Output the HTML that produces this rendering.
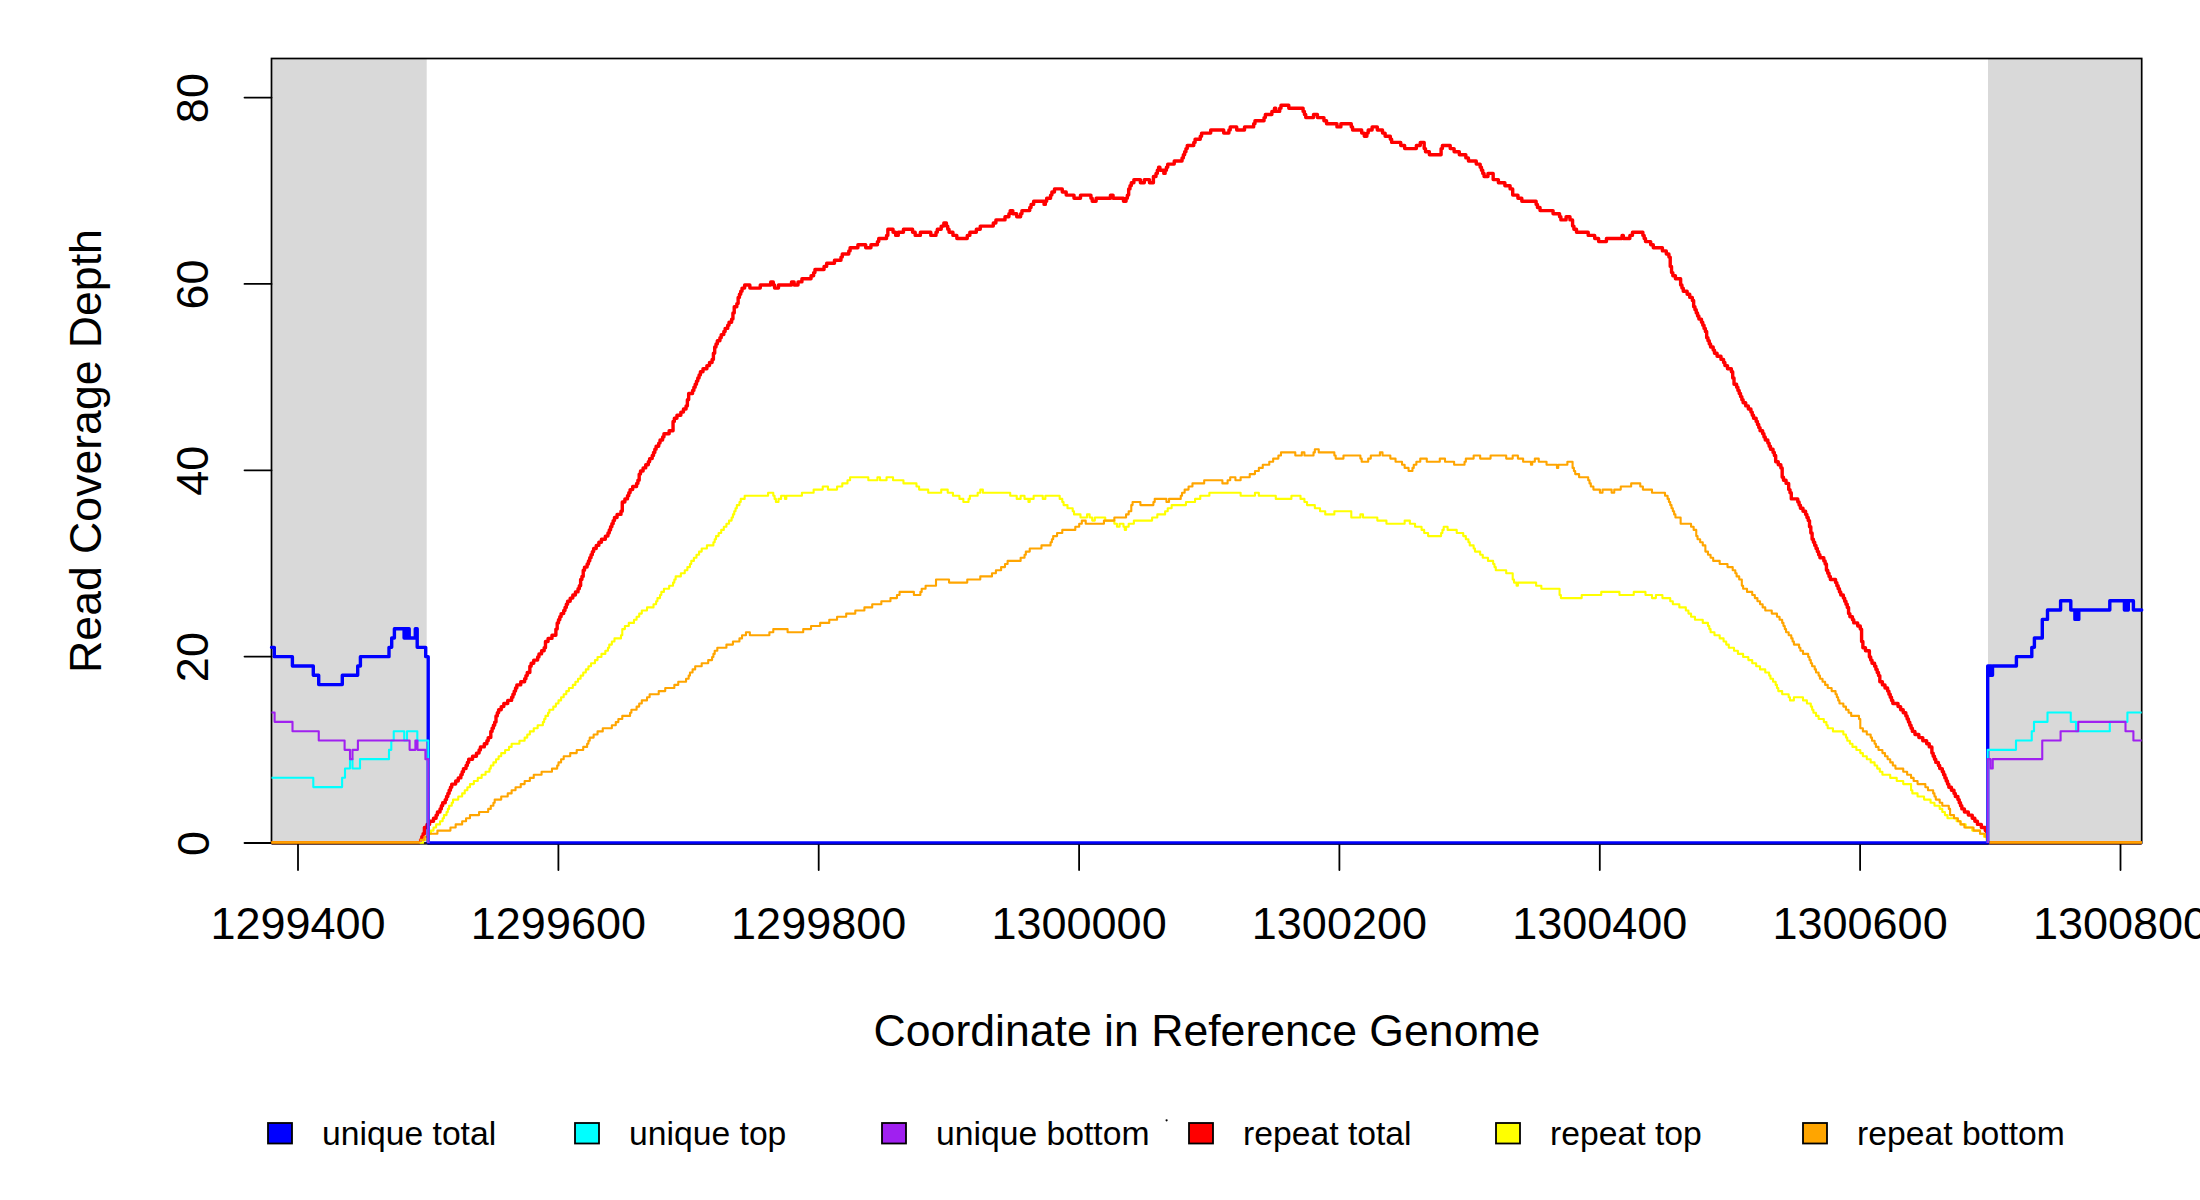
<!DOCTYPE html><html><head><meta charset="utf-8"><style>html,body{margin:0;padding:0;background:#fff;overflow:hidden}svg{display:block;font-family:"Liberation Sans",sans-serif}</style></head><body><svg width="2200" height="1200" viewBox="0 0 2200 1200">
<rect x="0" y="0" width="2200" height="1200" fill="#fff"/>
<rect x="271.5" y="58.5" width="155.2" height="784.5" fill="#d9d9d9"/>
<rect x="1988" y="58.5" width="153.7" height="784.5" fill="#d9d9d9"/>
<rect x="271.5" y="58.5" width="1870.2" height="784.5" fill="none" stroke="#000" stroke-width="1.7"/>
<line x1="244.5" y1="843.0" x2="271.5" y2="843.0" stroke="#000" stroke-width="1.8" stroke-linecap="round"/>
<line x1="244.5" y1="656.6" x2="271.5" y2="656.6" stroke="#000" stroke-width="1.8" stroke-linecap="round"/>
<line x1="244.5" y1="470.3" x2="271.5" y2="470.3" stroke="#000" stroke-width="1.8" stroke-linecap="round"/>
<line x1="244.5" y1="283.9" x2="271.5" y2="283.9" stroke="#000" stroke-width="1.8" stroke-linecap="round"/>
<line x1="244.5" y1="97.6" x2="271.5" y2="97.6" stroke="#000" stroke-width="1.8" stroke-linecap="round"/>
<line x1="298.0" y1="843" x2="298.0" y2="870" stroke="#000" stroke-width="1.8" stroke-linecap="round"/>
<line x1="558.4" y1="843" x2="558.4" y2="870" stroke="#000" stroke-width="1.8" stroke-linecap="round"/>
<line x1="818.7" y1="843" x2="818.7" y2="870" stroke="#000" stroke-width="1.8" stroke-linecap="round"/>
<line x1="1079.1" y1="843" x2="1079.1" y2="870" stroke="#000" stroke-width="1.8" stroke-linecap="round"/>
<line x1="1339.4" y1="843" x2="1339.4" y2="870" stroke="#000" stroke-width="1.8" stroke-linecap="round"/>
<line x1="1599.8" y1="843" x2="1599.8" y2="870" stroke="#000" stroke-width="1.8" stroke-linecap="round"/>
<line x1="1860.1" y1="843" x2="1860.1" y2="870" stroke="#000" stroke-width="1.8" stroke-linecap="round"/>
<line x1="2120.5" y1="843" x2="2120.5" y2="870" stroke="#000" stroke-width="1.8" stroke-linecap="round"/>
<path d="M271.5,842.6H420M1988,842.6H2141.7" fill="none" stroke="#ff0000" stroke-width="3.2"/>
<path d="M271.5,842.4H420M1988,842.4H2141.7" fill="none" stroke="#ffff00" stroke-width="2"/>
<path d="M271.5,842.4H420M1988,842.4H2141.7" fill="none" stroke="#ffa500" stroke-width="2"/>
<path fill="none" stroke="#ff0000" stroke-width="3.4" stroke-linejoin="round" stroke-linecap="round" d="M420.50,839.90H421.80V836.80H423.10V833.70H424.41V827.50H427.01V824.40H429.61V821.30H433.52V818.20H436.12V815.10H437.42V812.00H440.03V808.90H441.33V805.80H442.63V802.70H445.23V799.60H446.54V796.50H447.84V793.40H449.14V790.30H450.44V787.20H451.74V784.10H455.65V781.00H458.25V777.90H460.86V774.80H462.16V771.70H463.46V768.60H466.06V765.50H467.36V762.40H468.67V759.30H472.57V756.20H476.48V753.10H479.08V750.00H480.38V746.90H484.29V743.80H486.89V740.70H488.19V737.60H490.80V731.40H492.10V728.30H493.40V725.20H494.70V722.10H496.00V715.90H497.31V712.80H498.61V709.70H501.21V706.60H503.81V703.50H507.72V700.40H511.63V697.30H512.93V694.20H514.23V691.10H515.53V688.00H516.83V684.90H520.74V681.80H524.64V678.70H525.94V675.60H527.25V672.50H529.85V666.30H531.15V663.20H533.76V660.10H537.66V657.00H538.96V653.90H541.57V650.80H544.17V647.70H545.47V641.50H548.08V638.40H551.98V635.30H555.89V629.10H557.19V622.90H558.49V619.80H559.79V616.70H561.09V613.60H563.70V610.50H565.00V607.40H566.30V604.30H567.60V601.20H570.21V598.10H572.81V595.00H575.41V591.90H578.02V588.80H579.32V585.70H580.62V579.50H581.92V576.40H583.22V570.20H584.53V567.10H587.13V564.00H588.43V560.90H589.73V557.80H591.03V554.70H592.34V551.60H593.64V548.50H596.24V545.40H598.85V542.30H601.45V539.20H605.35V536.10H607.96V533.00H609.26V529.90H610.56V526.80H611.86V523.70H613.16V520.60H614.47V517.50H617.07V514.40H620.98V511.30H622.28V502.00H624.88V498.90H627.48V495.80H628.79V492.70H630.09V489.60H632.69V486.50H636.60V483.40H637.90V480.30H639.20V474.10H640.50V471.00H643.11V467.90H645.71V464.80H648.31V461.70H649.62V458.60H652.22V455.50H653.52V452.40H654.82V449.30H656.12V446.20H658.73V443.10H660.03V440.00H662.63V436.90H663.93V433.80H669.14V430.70H673.05V421.40H674.35V418.30H676.95V415.20H680.86V412.10H683.46V409.00H686.07V405.90H687.37V399.70H688.67V393.50H692.57V390.40H693.88V387.30H695.18V384.20H696.48V381.10H697.78V378.00H699.08V374.90H700.38V371.80H702.99V368.70H706.89V365.60H709.50V362.50H712.10V359.40H713.40V353.20H714.70V347.00H716.01V343.90H717.31V340.80H719.91V337.70H721.21V334.60H723.82V331.50H725.12V328.40H727.72V325.30H729.02V322.20H731.63V319.10H732.93V312.90H734.23V306.70H736.83V303.60H738.14V297.40H739.44V294.30H740.74V291.20H742.04V288.10H744.65V285.00H749.85V288.10H760.27V285.00H770.68V281.90H773.29V285.00H774.59V288.10H778.49V285.00H791.51V281.90H794.11V285.00H798.02V281.90H801.92V278.80H811.04V275.70H813.64V272.60H814.94V269.50H824.05V266.40H826.66V263.30H834.47V260.20H840.98V257.10H842.28V254.00H848.79V250.90H850.09V247.80H857.90V244.70H865.71V247.80H870.92V244.70H877.43V241.60H878.73V238.50H886.54V235.40H887.84V229.20H893.05V232.30H895.65V235.40H898.26V232.30H903.46V229.20H912.58V232.30H915.18V235.40H920.39V232.30H930.80V235.40H936.01V232.30H937.31V229.20H941.22V226.10H943.82V223.00H946.42V226.10H947.72V229.20H949.03V232.30H952.93V235.40H956.84V238.50H967.25V235.40H969.86V232.30H976.36V229.20H980.27V226.10H993.29V223.00H995.89V219.90H1005.00V216.80H1008.91V213.70H1010.21V210.60H1012.81V213.70H1016.72V216.80H1020.63V213.70H1021.93V210.60H1029.74V207.50H1031.04V204.40H1033.64V201.30H1044.06V204.40H1045.36V201.30H1046.66V198.20H1050.57V195.10H1051.87V192.00H1054.47V188.90H1062.28V192.00H1066.19V195.10H1074.00V198.20H1080.51V195.10H1090.92V198.20H1092.22V201.30H1096.13V198.20H1110.45V195.10H1113.05V198.20H1123.47V201.30H1126.07V198.20H1127.37V195.10H1128.67V188.90H1129.98V185.80H1131.28V182.70H1133.88V179.60H1140.39V182.70H1144.30V179.60H1149.50V182.70H1153.41V176.50H1156.01V173.40H1157.31V170.30H1158.61V167.20H1159.92V170.30H1163.82V173.40H1165.12V170.30H1166.43V167.20H1167.73V164.10H1174.24V161.00H1182.05V157.90H1183.35V154.80H1184.65V151.70H1185.95V148.60H1187.25V145.50H1193.76V142.40H1195.07V139.30H1200.27V136.20H1201.57V133.10H1210.69V130.00H1223.70V133.10H1228.91V130.00H1230.21V126.90H1236.72V130.00H1244.53V126.90H1253.65V123.80H1254.95V120.70H1264.06V117.60H1265.36V114.50H1271.87V111.40H1274.47V108.30H1275.78V111.40H1279.68V108.30H1280.98V105.20H1288.79V108.30H1303.11V111.40H1304.42V114.50H1305.72V117.60H1313.53V114.50H1317.43V117.60H1323.94V120.70H1326.55V123.80H1336.96V126.90H1340.87V123.80H1351.28V126.90H1352.58V130.00H1361.69V133.10H1364.30V136.20H1366.90V133.10H1368.20V130.00H1372.11V126.90H1377.32V130.00H1382.52V133.10H1385.13V136.20H1390.33V139.30H1391.64V142.40H1400.75V145.50H1404.65V148.60H1416.37V145.50H1420.27V142.40H1424.18V148.60H1425.48V151.70H1429.39V154.80H1441.10V148.60H1442.41V145.50H1450.22V148.60H1454.12V151.70H1459.33V154.80H1465.84V157.90H1468.44V161.00H1476.25V164.10H1480.16V167.20H1481.46V170.30H1482.76V173.40H1484.06V176.50H1487.97V173.40H1493.17V179.60H1498.38V182.70H1504.89V185.80H1510.10V188.90H1512.70V195.10H1517.91V198.20H1521.81V201.30H1536.13V204.40H1537.44V207.50H1540.04V210.60H1553.06V213.70H1559.57V216.80H1560.87V219.90H1566.08V216.80H1569.98V219.90H1572.58V226.10H1573.89V229.20H1576.49V232.30H1588.21V235.40H1594.71V238.50H1598.62V241.60H1606.43V238.50H1622.05V235.40H1623.35V238.50H1629.86V235.40H1632.47V232.30H1642.88V235.40H1644.18V238.50H1645.48V241.60H1650.69V244.70H1653.30V247.80H1662.41V250.90H1666.31V254.00H1668.92V257.10H1670.22V266.40H1671.52V272.60H1672.82V275.70H1675.43V278.80H1680.63V285.00H1681.93V288.10H1683.24V291.20H1687.14V294.30H1689.75V297.40H1692.35V300.50H1693.65V306.70H1694.95V309.80H1696.25V312.90H1697.56V316.00H1698.86V319.10H1701.46V322.20H1702.76V325.30H1704.06V328.40H1705.37V331.50H1706.67V337.70H1707.97V340.80H1709.27V343.90H1710.57V347.00H1713.18V350.10H1714.48V353.20H1717.08V356.30H1720.99V359.40H1723.59V362.50H1724.89V365.60H1727.50V368.70H1731.40V371.80H1732.70V378.00H1734.01V384.20H1736.61V387.30H1737.91V390.40H1739.21V393.50H1740.52V396.60H1741.82V399.70H1743.12V402.80H1745.72V405.90H1748.33V409.00H1750.93V412.10H1752.23V415.20H1753.53V418.30H1756.14V421.40H1757.44V424.50H1758.74V427.60H1760.04V430.70H1762.65V433.80H1763.95V436.90H1765.25V440.00H1767.85V443.10H1769.15V446.20H1770.46V449.30H1773.06V452.40H1774.36V455.50H1775.66V461.70H1778.27V464.80H1780.87V467.90H1782.17V477.20H1783.47V480.30H1786.08V483.40H1788.68V489.60H1789.98V492.70H1791.28V498.90H1797.79V502.00H1799.10V505.10H1800.40V508.20H1803.00V511.30H1805.60V514.40H1806.91V517.50H1808.21V520.60H1809.51V526.80H1810.81V533.00H1812.11V539.20H1813.42V542.30H1814.72V545.40H1816.02V548.50H1817.32V551.60H1818.62V554.70H1819.92V557.80H1823.83V560.90H1825.13V564.00H1826.43V570.20H1827.73V573.30H1829.04V576.40H1830.34V579.50H1835.55V582.60H1836.85V585.70H1838.15V588.80H1839.45V591.90H1840.75V595.00H1843.36V598.10H1844.66V601.20H1845.96V604.30H1847.26V607.40H1848.56V613.60H1849.87V616.70H1852.47V619.80H1853.77V622.90H1857.68V626.00H1860.28V629.10H1861.58V641.50H1862.88V647.70H1865.49V650.80H1869.39V657.00H1870.69V660.10H1872.00V663.20H1874.60V666.30H1875.90V669.40H1877.20V672.50H1878.50V675.60H1879.81V681.80H1882.41V684.90H1885.01V688.00H1887.62V691.10H1888.92V694.20H1890.22V697.30H1891.52V700.40H1892.82V703.50H1898.03V706.60H1900.64V709.70H1903.24V712.80H1905.84V715.90H1907.14V719.00H1908.45V722.10H1909.75V725.20H1911.05V728.30H1912.35V731.40H1914.95V734.50H1918.86V737.60H1922.77V740.70H1926.67V743.80H1929.27V746.90H1931.88V753.10H1933.18V756.20H1934.48V759.30H1935.78V762.40H1938.39V765.50H1939.69V768.60H1942.29V771.70H1943.59V774.80H1944.90V777.90H1946.20V781.00H1947.50V784.10H1948.80V787.20H1951.41V790.30H1954.01V793.40H1955.31V796.50H1957.91V799.60H1959.22V802.70H1960.52V805.80H1961.82V808.90H1964.42V812.00H1968.33V815.10H1972.23V818.20H1974.84V821.30H1977.44V824.40H1981.35V827.50H1985.25V830.60H1986.55V836.80H1986.55"/>
<path fill="none" stroke="#ffff00" stroke-width="2.1" stroke-linejoin="round" stroke-linecap="round" d="M420.50,843.00H423.10V839.90H425.71V836.80H428.31V833.70H430.91V830.60H433.52V827.50H436.12V824.40H440.03V821.30H442.63V818.20H443.93V815.10H446.54V812.00H447.84V808.90H449.14V805.80H451.74V802.70H453.04V799.60H458.25V796.50H462.16V793.40H464.76V790.30H467.36V787.20H469.97V784.10H473.87V781.00H477.78V777.90H481.68V774.80H485.59V771.70H489.49V768.60H490.80V765.50H493.40V762.40H496.00V759.30H498.61V756.20H501.21V753.10H505.12V750.00H509.02V746.90H511.63V743.80H519.44V740.70H524.64V737.60H527.25V734.50H529.85V731.40H533.76V728.30H537.66V725.20H542.87V722.10H544.17V719.00H545.47V715.90H548.08V712.80H549.38V709.70H553.28V706.60H555.89V703.50H558.49V700.40H561.09V697.30H563.70V694.20H566.30V691.10H568.90V688.00H572.81V684.90H575.41V681.80H578.02V678.70H580.62V675.60H583.22V672.50H585.83V669.40H588.43V666.30H591.03V663.20H594.94V660.10H597.54V657.00H601.45V653.90H605.35V650.80H607.96V647.70H609.26V644.60H611.86V641.50H614.47V638.40H620.98V635.30H622.28V629.10H624.88V626.00H628.79V622.90H633.99V619.80H636.60V616.70H639.20V613.60H641.80V610.50H647.01V607.40H653.52V604.30H656.12V601.20H657.43V598.10H660.03V595.00H661.33V591.90H663.93V588.80H669.14V585.70H673.05V582.60H674.35V579.50H675.65V576.40H680.86V573.30H684.76V570.20H687.37V567.10H689.97V564.00H691.27V560.90H693.88V557.80H696.48V554.70H699.08V551.60H701.69V548.50H706.89V545.40H713.40V542.30H714.70V539.20H716.01V536.10H718.61V533.00H721.21V529.90H723.82V526.80H726.42V523.70H729.02V520.60H731.63V517.50H732.93V514.40H734.23V511.30H735.53V508.20H736.83V505.10H739.44V502.00H740.74V498.90H744.65V495.80H768.08V492.70H773.29V495.80H774.59V498.90H775.89V502.00H778.49V498.90H781.10V495.80H785.00V498.90H786.30V495.80H801.92V492.70H813.64V489.60H822.75V486.50H827.96V489.60H837.07V486.50H842.28V483.40H847.49V480.30H850.09V477.20H868.32V480.30H877.43V477.20H880.03V480.30H886.54V477.20H893.05V480.30H903.46V483.40H916.48V486.50H919.09V489.60H928.20V492.70H941.22V489.60H947.72V492.70H952.93V495.80H959.44V498.90H963.35V502.00H968.55V498.90H969.86V495.80H977.67V492.70H980.27V489.60H982.87V492.70H1010.21V495.80H1016.72V498.90H1020.63V495.80H1024.53V498.90H1028.44V502.00H1029.74V498.90H1033.64V495.80H1042.76V498.90H1045.36V495.80H1059.68V498.90H1062.28V502.00H1063.58V505.10H1067.49V508.20H1072.70V511.30H1074.00V514.40H1080.51V517.50H1087.02V514.40H1089.62V517.50H1092.22V520.60H1094.83V517.50H1105.24V520.60H1114.35V523.70H1116.96V526.80H1119.56V523.70H1123.47V526.80H1124.77V529.90H1126.07V526.80H1128.67V523.70H1133.88V520.60H1152.11V517.50H1157.31V514.40H1165.12V511.30H1167.73V508.20H1171.63V505.10H1185.95V502.00H1195.07V498.90H1200.27V495.80H1209.38V492.70H1240.63V495.80H1254.95V492.70H1258.85V495.80H1275.78V498.90H1291.40V495.80H1300.51V498.90H1304.42V502.00H1307.02V505.10H1314.83V508.20H1320.04V511.30H1325.24V514.40H1334.36V511.30H1351.28V517.50H1360.39V514.40H1363.00V517.50H1377.32V520.60H1386.43V523.70H1404.65V520.60H1409.86V523.70H1415.07V526.80H1421.58V529.90H1424.18V533.00H1428.09V536.10H1441.10V533.00H1442.41V529.90H1443.71V526.80H1447.61V529.90H1456.72V533.00H1463.23V536.10H1465.84V539.20H1468.44V542.30H1469.74V545.40H1473.65V548.50H1474.95V551.60H1480.16V554.70H1482.76V557.80H1487.97V560.90H1493.17V564.00H1494.48V567.10H1495.78V570.20H1506.19V573.30H1512.70V579.50H1514.00V582.60H1516.61V585.70H1517.91V582.60H1536.13V585.70H1541.34V588.80H1559.57V595.00H1560.87V598.10H1581.70V595.00H1601.22V591.90H1619.45V595.00H1633.77V591.90H1645.48V595.00H1651.99V598.10H1655.90V595.00H1662.41V598.10H1670.22V601.20H1672.82V604.30H1679.33V607.40H1685.84V610.50H1688.44V613.60H1691.05V616.70H1694.95V619.80H1702.76V622.90H1707.97V626.00H1709.27V629.10H1710.57V632.20H1714.48V635.30H1719.69V638.40H1723.59V641.50H1726.20V644.60H1728.80V647.70H1734.01V650.80H1737.91V653.90H1743.12V657.00H1748.33V660.10H1752.23V663.20H1756.14V666.30H1760.04V669.40H1765.25V672.50H1769.15V675.60H1770.46V678.70H1773.06V681.80H1775.66V684.90H1776.97V688.00H1778.27V691.10H1782.17V694.20H1788.68V697.30H1789.98V700.40H1793.89V697.30H1803.00V700.40H1806.91V703.50H1810.81V706.60H1812.11V709.70H1813.42V712.80H1816.02V715.90H1818.62V719.00H1823.83V722.10H1826.43V725.20H1827.73V728.30H1832.94V731.40H1843.36V734.50H1845.96V737.60H1847.26V740.70H1849.87V743.80H1852.47V746.90H1856.37V750.00H1860.28V753.10H1862.88V756.20H1866.79V759.30H1870.69V762.40H1874.60V765.50H1877.20V768.60H1879.81V771.70H1882.41V774.80H1890.22V777.90H1896.73V781.00H1903.24V784.10H1911.05V790.30H1912.35V793.40H1917.56V796.50H1924.07V799.60H1930.58V802.70H1934.48V805.80H1939.69V808.90H1942.29V812.00H1944.90V815.10H1947.50V818.20H1956.61V821.30H1960.52V824.40H1965.72V827.50H1972.23V830.60H1980.04V833.70H1983.95V836.80H1986.55V839.90H1986.55"/>
<path fill="none" stroke="#ffa500" stroke-width="2.1" stroke-linejoin="round" stroke-linecap="round" d="M420.50,839.90H424.41V836.80H428.31V833.70H437.42V830.60H450.44V827.50H455.65V824.40H462.16V821.30H466.06V818.20H469.97V815.10H479.08V812.00H488.19V808.90H490.80V805.80H493.40V802.70H494.70V799.60H501.21V796.50H507.72V793.40H511.63V790.30H515.53V787.20H520.74V784.10H524.64V781.00H529.85V777.90H533.76V774.80H541.57V771.70H551.98V768.60H557.19V765.50H558.49V762.40H561.09V759.30H563.70V756.20H570.21V753.10H576.71V750.00H583.22V746.90H587.13V743.80H588.43V740.70H589.73V737.60H593.64V734.50H597.54V731.40H602.75V728.30H611.86V725.20H615.77V722.10H618.37V719.00H622.28V715.90H630.09V712.80H631.39V709.70H636.60V706.60H639.20V703.50H641.80V700.40H647.01V697.30H649.62V694.20H658.73V691.10H665.24V688.00H674.35V684.90H678.25V681.80H686.07V678.70H688.67V675.60H689.97V672.50H692.57V669.40H695.18V666.30H701.69V663.20H708.20V660.10H712.10V657.00H713.40V653.90H714.70V650.80H717.31V647.70H726.42V644.60H732.93V641.50H739.44V638.40H742.04V635.30H745.95V632.20H749.85V635.30H769.38V632.20H773.29V629.10H787.60V632.20H803.23V629.10H811.04V626.00H820.15V622.90H829.26V619.80H837.07V616.70H846.19V613.60H855.30V610.50H864.41V607.40H872.22V604.30H881.33V601.20H890.45V598.10H896.96V595.00H899.56V591.90H913.88V595.00H920.39V591.90H921.69V588.80H925.59V585.70H936.01V579.50H949.03V582.60H967.25V579.50H980.27V576.40H991.99V573.30H995.89V570.20H1001.10V567.10H1005.00V564.00H1007.61V560.90H1020.63V557.80H1024.53V554.70H1025.83V551.60H1029.74V548.50H1041.45V545.40H1050.57V542.30H1051.87V539.20H1053.17V536.10H1057.08V533.00H1062.28V529.90H1075.30V526.80H1079.21V523.70H1081.81V520.60H1085.71V523.70H1103.94V520.60H1114.35V517.50H1126.07V514.40H1128.67V511.30H1131.28V505.10H1132.58V502.00H1140.39V505.10H1153.41V502.00H1154.71V498.90H1166.43V502.00H1169.03V498.90H1180.75V495.80H1182.05V492.70H1184.65V489.60H1188.56V486.50H1192.46V483.40H1204.18V480.30H1222.40V483.40H1227.61V480.30H1230.21V477.20H1235.42V480.30H1240.63V477.20H1249.74V474.10H1254.95V471.00H1258.85V467.90H1262.76V464.80H1269.27V461.70H1273.17V458.60H1278.38V455.50H1280.98V452.40H1295.30V455.50H1301.81V452.40H1304.42V455.50H1313.53V452.40H1314.83V449.30H1318.74V452.40H1334.36V455.50H1335.66V458.60H1343.47V455.50H1360.39V458.60H1361.69V461.70H1368.20V458.60H1370.81V455.50H1379.92V452.40H1382.52V455.50H1390.33V458.60H1395.54V461.70H1402.05V464.80H1404.65V467.90H1408.56V471.00H1412.46V467.90H1413.77V464.80H1416.37V461.70H1420.27V458.60H1426.78V461.70H1439.80V458.60H1445.01V461.70H1454.12V464.80H1464.54V461.70H1465.84V458.60H1473.65V455.50H1480.16V458.60H1490.57V455.50H1506.19V458.60H1512.70V455.50H1517.91V458.60H1523.12V461.70H1530.93V464.80H1532.23V461.70H1534.83V458.60H1538.74V461.70H1546.55V464.80H1556.96V467.90H1558.26V464.80H1567.38V461.70H1572.58V467.90H1573.89V471.00H1575.19V474.10H1579.09V477.20H1588.21V480.30H1589.51V483.40H1590.81V486.50H1593.41V489.60H1599.92V492.70H1602.53V489.60H1611.64V492.70H1614.24V489.60H1620.75V486.50H1631.16V483.40H1640.28V486.50H1642.88V489.60H1651.99V492.70H1665.01V495.80H1667.61V498.90H1668.92V502.00H1670.22V505.10H1671.52V508.20H1672.82V511.30H1674.12V514.40H1675.43V517.50H1680.63V523.70H1691.05V526.80H1693.65V529.90H1696.25V536.10H1697.56V539.20H1700.16V542.30H1702.76V545.40H1705.37V551.60H1707.97V554.70H1710.57V557.80H1713.18V560.90H1719.69V564.00H1727.50V567.10H1732.70V570.20H1735.31V573.30H1736.61V576.40H1739.21V579.50H1741.82V585.70H1743.12V588.80H1747.02V591.90H1752.23V595.00H1754.83V598.10H1757.44V601.20H1760.04V604.30H1762.65V607.40H1765.25V610.50H1771.76V613.60H1776.97V616.70H1779.57V619.80H1782.17V622.90H1783.47V626.00H1784.78V629.10H1786.08V632.20H1788.68V635.30H1791.28V638.40H1792.59V641.50H1793.89V644.60H1799.10V647.70H1800.40V650.80H1803.00V653.90H1808.21V657.00H1809.51V660.10H1810.81V663.20H1812.11V666.30H1814.72V669.40H1816.02V672.50H1818.62V675.60H1819.92V678.70H1822.53V681.80H1825.13V684.90H1827.73V688.00H1831.64V691.10H1835.55V694.20H1836.85V697.30H1838.15V700.40H1839.45V703.50H1843.36V706.60H1845.96V709.70H1848.56V712.80H1851.17V715.90H1858.98V719.00H1860.28V728.30H1862.88V731.40H1866.79V734.50H1870.69V737.60H1872.00V740.70H1874.60V743.80H1875.90V746.90H1878.50V750.00H1882.41V753.10H1885.01V756.20H1887.62V759.30H1890.22V762.40H1892.82V765.50H1895.43V768.60H1903.24V771.70H1907.14V774.80H1911.05V777.90H1913.65V781.00H1917.56V784.10H1925.37V787.20H1927.97V790.30H1933.18V793.40H1934.48V796.50H1935.78V799.60H1939.69V802.70H1942.29V805.80H1948.80V808.90H1950.10V815.10H1954.01V818.20H1957.91V821.30H1960.52V824.40H1964.42V827.50H1973.54V830.60H1980.04V833.70H1985.25V836.80H1986.55"/>
<path fill="none" stroke="#0000ff" stroke-width="3.4" stroke-linejoin="round" stroke-linecap="round" d="M271.50,647.33H274.30V656.65H292.40V665.97H313.30V675.28H318.70V684.60H342.30V675.28H357.70V665.97H360.40V656.65H389.00V647.33H391.70V638.01H394.40V628.70H404.10V638.01H405.30V628.70H406.60V638.01H407.90V628.70H409.20V638.01H410.30V638.01H415.30V628.70H417.20V647.33H425.70V656.65H428.20V843.00H1987.70V665.97H1988.90V675.28H1990.20V665.97H1991.50V675.28H1992.50V665.97H2016.40V656.65H2031.80V647.33H2034.40V638.01H2042.30V619.38H2047.50V610.06H2060.60V600.75H2070.80V610.06H2074.90V619.38H2076.20V610.06H2077.50V619.38H2078.80V610.06H2079.80V610.06H2109.80V600.75H2124.40V610.06H2125.70V600.75H2127.00V610.06H2128.30V600.75H2129.30V600.75H2133.40V610.06H2141.70"/>
<path fill="none" stroke="#00ffff" stroke-width="2.1" stroke-linejoin="round" d="M271.50,777.78H313.30V787.10H342.10V777.78H345.00V768.46H350.00V759.14H352.50V768.46H360.00V759.14H389.00V749.83H391.30V740.51H393.75V731.19H404.20V740.51H407.00V731.19H417.30V740.51H428.30V843.00H428.30"/>
<path fill="none" stroke="#00ffff" stroke-width="2.1" stroke-linejoin="round" d="M1987.7,843L1987.70,749.83H2016.00V740.51H2031.75V731.19H2034.00V721.87H2047.50V712.55H2070.75V721.87H2076.00V731.19H2109.80V721.87H2127.40V712.55H2141.70"/>
<path fill="none" stroke="#a020f0" stroke-width="2.1" stroke-linejoin="round" d="M271.50,712.55H274.60V721.87H292.50V731.19H318.75V740.51H344.60V749.83H350.00V759.14H352.50V749.83H357.90V740.51H409.60V749.83H415.40V740.51H417.50V749.83H425.40V759.14H428.30V843.00H428.30"/>
<path fill="none" stroke="#a020f0" stroke-width="2.1" stroke-linejoin="round" d="M1987.7,843L1987.70,759.14H1990.50V768.46H1992.75V759.14H2042.25V740.51H2060.60V731.19H2078.25V721.87H2125.50V731.19H2133.40V740.51H2141.70"/>
<line x1="271.5" y1="844.3" x2="2141.7" y2="844.3" stroke="#000" stroke-opacity="0.6" stroke-width="1.2"/>
<text x="208.5" y="843.5" transform="rotate(-90 208.5 843.5)" text-anchor="middle" font-size="45">0</text>
<text x="208.5" y="657.1" transform="rotate(-90 208.5 657.1)" text-anchor="middle" font-size="45">20</text>
<text x="208.5" y="470.8" transform="rotate(-90 208.5 470.8)" text-anchor="middle" font-size="45">40</text>
<text x="208.5" y="284.4" transform="rotate(-90 208.5 284.4)" text-anchor="middle" font-size="45">60</text>
<text x="208.5" y="98.1" transform="rotate(-90 208.5 98.1)" text-anchor="middle" font-size="45">80</text>
<text x="298.0" y="939" text-anchor="middle" font-size="45">1299400</text>
<text x="558.4" y="939" text-anchor="middle" font-size="45">1299600</text>
<text x="818.7" y="939" text-anchor="middle" font-size="45">1299800</text>
<text x="1079.1" y="939" text-anchor="middle" font-size="45">1300000</text>
<text x="1339.4" y="939" text-anchor="middle" font-size="45">1300200</text>
<text x="1599.8" y="939" text-anchor="middle" font-size="45">1300400</text>
<text x="1860.1" y="939" text-anchor="middle" font-size="45">1300600</text>
<text x="2120.5" y="939" text-anchor="middle" font-size="45">1300800</text>
<text x="101" y="451" transform="rotate(-90 101 451)" text-anchor="middle" font-size="44.6">Read Coverage Depth</text>
<text x="1207" y="1045.5" text-anchor="middle" font-size="44.6">Coordinate in Reference Genome</text>
<rect x="268" y="1123" width="24" height="20.5" fill="#0000ff" stroke="#000" stroke-width="1.8"/>
<text x="322" y="1144.8" font-size="33.7">unique total</text>
<rect x="575" y="1123" width="24" height="20.5" fill="#00ffff" stroke="#000" stroke-width="1.8"/>
<text x="629" y="1144.8" font-size="33.7">unique top</text>
<rect x="882" y="1123" width="24" height="20.5" fill="#a020f0" stroke="#000" stroke-width="1.8"/>
<text x="936" y="1144.8" font-size="33.7">unique bottom</text>
<rect x="1189" y="1123" width="24" height="20.5" fill="#ff0000" stroke="#000" stroke-width="1.8"/>
<text x="1243" y="1144.8" font-size="33.7">repeat total</text>
<rect x="1496" y="1123" width="24" height="20.5" fill="#ffff00" stroke="#000" stroke-width="1.8"/>
<text x="1550" y="1144.8" font-size="33.7">repeat top</text>
<rect x="1803" y="1123" width="24" height="20.5" fill="#ffa500" stroke="#000" stroke-width="1.8"/>
<text x="1857" y="1144.8" font-size="33.7">repeat bottom</text>
<circle cx="1166.6" cy="1120.3" r="1.1" fill="#000"/>
</svg></body></html>
